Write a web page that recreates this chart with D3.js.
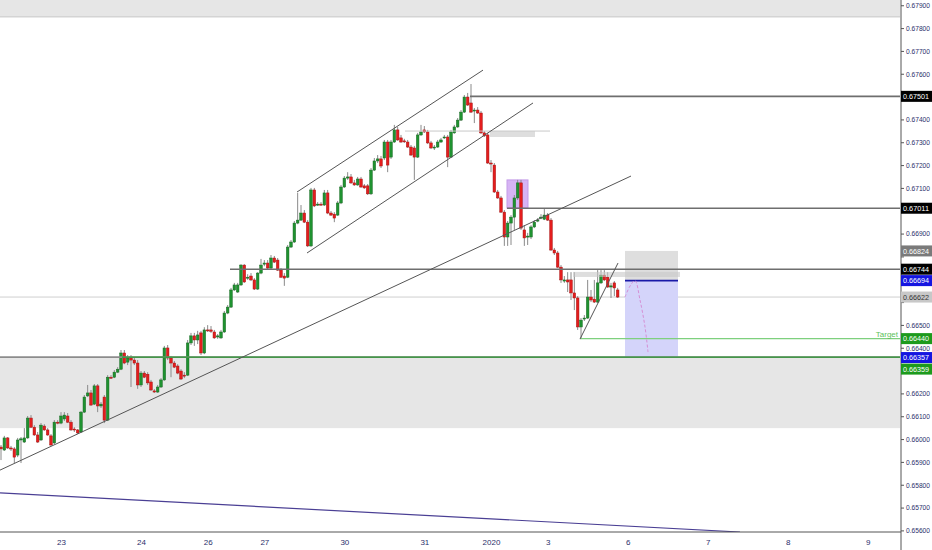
<!DOCTYPE html>
<html><head><meta charset="utf-8">
<script src="https://cdn.jsdelivr.net/npm/d3@7"></script>
<style>body{margin:0;background:#fff} svg{display:block}</style>
</head><body>
<svg id="c" width="932" height="550"></svg>
<script>
// ---------- DATA ----------
const firstIndex = -18; // hourly bars, index 0 = Dec 23 00:00
// [open, high, low, close]
const candles = [
[0.65965,0.65974,0.65908,0.65957],[0.65952,0.66014,0.65948,0.66005],[0.66005,0.66009,0.65957,0.65961],
[0.65961,0.65970,0.65948,0.65957],[0.65957,0.65965,0.65895,0.65921],[0.65930,0.66005,0.65921,0.65996],
[0.65996,0.66009,0.65895,0.66001],[0.65987,0.66048,0.65983,0.66005],[0.66005,0.66101,0.66001,0.66092],
[0.66092,0.66105,0.66048,0.66052],[0.66052,0.66061,0.66014,0.66018],[0.66018,0.66031,0.65983,0.65987],
[0.65996,0.66070,0.65992,0.66061],[0.66057,0.66065,0.66036,0.66040],[0.66040,0.66048,0.66014,0.66018],
[0.66014,0.66022,0.65970,0.65974],[0.65983,0.66083,0.65978,0.66074],[0.66074,0.66083,0.66065,0.66070],
// 23
[0.66070,0.66118,0.66065,0.66101],[0.66088,0.66118,0.66079,0.66105],[0.66101,0.66114,0.66070,0.66074],
[0.66074,0.66083,0.66036,0.66040],[0.66044,0.66052,0.66031,0.66040],[0.66040,0.66044,0.66022,0.66027],
[0.66031,0.66123,0.66027,0.66118],[0.66118,0.66193,0.66114,0.66184],[0.66189,0.66237,0.66184,0.66202],
[0.66202,0.66215,0.66145,0.66149],
[0.66153,0.66241,0.66149,0.66233],[0.66233,0.66241,0.66118,0.66145],[0.66145,0.66162,0.66136,0.66153],
[0.66184,0.66193,0.66070,0.66083],[0.66083,0.66280,0.66079,0.66271],[0.66271,0.66280,0.66263,0.66267],
[0.66271,0.66302,0.66267,0.66293],[0.66293,0.66315,0.66289,0.66306],[0.66306,0.66390,0.66302,0.66377],
[0.66377,0.66390,0.66328,0.66333],
[0.66337,0.66368,0.66324,0.66355],[0.66355,0.66368,0.66228,0.66346],[0.66346,0.66359,0.66324,0.66333],
[0.66333,0.66346,0.66220,0.66237],
// 24
[0.66237,0.66298,0.66228,0.66289],[0.66289,0.66298,0.66267,0.66271],
[0.66284,0.66293,0.66237,0.66246],[0.66250,0.66259,0.66211,0.66215],[0.66211,0.66219,0.66202,0.66206],
[0.66206,0.66237,0.66202,0.66228],
[0.66228,0.66267,0.66224,0.66259],[0.66259,0.66408,0.66255,0.66399],[0.66399,0.66412,0.66346,0.66355],
[0.66355,0.66364,0.66271,0.66333],[0.66333,0.66342,0.66311,0.66315],[0.66320,0.66328,0.66284,0.66289],
[0.66298,0.66306,0.66259,0.66263],[0.66280,0.66293,0.66267,0.66276],[0.66280,0.66434,0.66276,0.66421],
[0.66421,0.66465,0.66412,0.66452],
[0.66452,0.66465,0.66408,0.66434],[0.66434,0.66474,0.66416,0.66456],[0.66465,0.66474,0.66368,0.66377],
[0.66377,0.66490,0.66372,0.66478],
// 26
[0.66478,0.66499,0.66469,0.66474],[0.66478,0.66495,0.66465,0.66472],
[0.66469,0.66478,0.66439,0.66443],[0.66447,0.66460,0.66439,0.66452],[0.66443,0.66478,0.66439,0.66469],
[0.66469,0.66561,0.66465,0.66552],
[0.66552,0.66587,0.66547,0.66578],[0.66578,0.66662,0.66574,0.66653],[0.66653,0.66684,0.66649,0.66675],
[0.66644,0.66684,0.66640,0.66675],[0.66675,0.66766,0.66671,0.66762],[0.66762,0.66766,0.66684,0.66688],
[0.66705,0.66722,0.66697,0.66709],[0.66714,0.66727,0.66692,0.66697],[0.66697,0.66705,0.66653,0.66657],
[0.66657,0.66731,0.66653,0.66727],
[0.66727,0.66789,0.66722,0.66762],
// 27
[0.66766,0.66784,0.66757,0.66771],[0.66771,0.66784,0.66744,0.66749],
[0.66749,0.66806,0.66744,0.66793],[0.66793,0.66802,0.66771,0.66775],[0.66784,0.66793,0.66736,0.66740],
[0.66740,0.66749,0.66705,0.66709],[0.66714,0.66727,0.66671,0.66705],[0.66709,0.66850,0.66705,0.66841],
[0.66841,0.66872,0.66837,0.66863],
[0.66863,0.66955,0.66859,0.66946],[0.66946,0.67078,0.66941,0.66959],[0.66959,0.67025,0.66955,0.66990],
[0.66990,0.67003,0.66946,0.66950],[0.66950,0.66959,0.66841,0.66846],[0.66846,0.67100,0.66841,0.67091],
[0.67091,0.67100,0.67016,0.67021],[0.67025,0.67038,0.67021,0.67029],[0.67029,0.67038,0.67021,0.67027],
[0.67025,0.67091,0.67021,0.67078],
[0.67078,0.67091,0.66985,0.66990],[0.66990,0.66999,0.66977,0.66981],[0.66985,0.66994,0.66950,0.66968],
[0.66981,0.67043,0.66977,0.67034],[0.67034,0.67113,0.67029,0.67104],
// 30
[0.67104,0.67152,0.67100,0.67143],
[0.67143,0.67169,0.67135,0.67148],[0.67148,0.67161,0.67117,0.67122],[0.67122,0.67135,0.67109,0.67113],
[0.67113,0.67148,0.67109,0.67139],
[0.67139,0.67148,0.67100,0.67104],[0.67109,0.67117,0.67096,0.67100],[0.67109,0.67117,0.67069,0.67074],
[0.67074,0.67187,0.67069,0.67178],[0.67178,0.67231,0.67174,0.67218],[0.67218,0.67244,0.67209,0.67227],
[0.67227,0.67240,0.67187,0.67196],[0.67231,0.67310,0.67222,0.67301],[0.67301,0.67310,0.67169,0.67200],
[0.67235,0.67310,0.67227,0.67301],
[0.67301,0.67376,0.67297,0.67354],[0.67354,0.67367,0.67306,0.67310],[0.67319,0.67332,0.67297,0.67301],
[0.67306,0.67315,0.67297,0.67304],[0.67301,0.67310,0.67275,0.67279],[0.67279,0.67288,0.67240,0.67244],
[0.67275,0.67284,0.67135,0.67235],[0.67235,0.67341,0.67231,0.67332],[0.67332,0.67376,0.67328,0.67345],
// 31
[0.67354,0.67371,0.67341,0.67345],
[0.67345,0.67354,0.67292,0.67297],[0.67297,0.67306,0.67270,0.67275],[0.67275,0.67288,0.67266,0.67279],
[0.67279,0.67310,0.67275,0.67301],[0.67301,0.67319,0.67297,0.67310],[0.67319,0.67332,0.67315,0.67323],
[0.67323,0.67332,0.67191,0.67235],[0.67235,0.67354,0.67231,0.67345],[0.67341,0.67376,0.67337,0.67367],
[0.67367,0.67406,0.67363,0.67397],
[0.67397,0.67441,0.67393,0.67432],[0.67432,0.67507,0.67428,0.67498],[0.67498,0.67516,0.67459,0.67463],
[0.67472,0.67555,0.67428,0.67432],[0.67437,0.67450,0.67384,0.67441],[0.67441,0.67454,0.67424,0.67428],
[0.67428,0.67437,0.67336,0.67341],[0.67341,0.67349,0.67323,0.67328],[0.67332,0.67341,0.67205,0.67209],
// 2020 (Jan 2)
[0.67209,0.67222,0.67169,0.67205],
[0.67200,0.67209,0.67078,0.67082],[0.67082,0.67091,0.67052,0.67056],[0.67056,0.67065,0.66990,0.66994],
[0.66994,0.67003,0.66846,0.66885],[0.66885,0.66955,0.66846,0.66946],[0.66946,0.66981,0.66850,0.66972],
[0.66972,0.67069,0.66916,0.67056],[0.67056,0.67135,0.67047,0.67122],[0.67122,0.67135,0.66916,0.66924],
[0.66916,0.66937,0.66846,0.66881],
[0.66885,0.66903,0.66850,0.66889],[0.66885,0.66937,0.66876,0.66929],[0.66929,0.66959,0.66924,0.66950],
[0.66955,0.66968,0.66950,0.66959],[0.66968,0.66985,0.66963,0.66972],[0.66963,0.67012,0.66959,0.66981],
// 3
[0.66981,0.66990,0.66955,0.66959],[0.66959,0.66968,0.66824,0.66828],[0.66828,0.66837,0.66806,0.66815],
[0.66815,0.66824,0.66749,0.66753],
[0.66753,0.66762,0.66684,0.66697],[0.66692,0.66714,0.66684,0.66697],[0.66697,0.66731,0.66644,0.66688],
[0.66697,0.66731,0.66609,0.66640],[0.66640,0.66731,0.66565,0.66618],[0.66618,0.66626,0.66478,0.66491],
[0.66491,0.66530,0.66438,0.66521],[0.66526,0.66543,0.66517,0.66530],[0.66530,0.66697,0.66526,0.66622],
[0.66622,0.66653,0.66600,0.66609],
[0.66613,0.66697,0.66596,0.66600],[0.66600,0.66740,0.66596,0.66684],[0.66684,0.66740,0.66679,0.66718],
[0.66718,0.66740,0.66692,0.66697],[0.66709,0.66731,0.66662,0.66666],[0.66666,0.66684,0.66618,0.66671],
[0.66684,0.66692,0.66626,0.66662],[0.66653,0.66662,0.66618,0.66622]
];

const dayLabels = ["23","24","26","27","30","31","2020","3","6","7","8","9"];
const dayIndex  = [0,24,44,61,85,109,129,146,170,194,218,242];
const priceTicks = [0.656,0.657,0.658,0.659,0.660,0.661,0.662,0.663,0.664,0.665,0.666,0.667,0.668,0.669,0.670,0.671,0.672,0.673,0.674,0.675,0.676,0.677,0.678,0.679];

// horizontal levels: [startIndex, price]
const rayLevels = [[122.7,0.67501],[133.8,0.67011],[50.7,0.66744]];
const lastPrice = 0.66622;
const supportTop = 0.66359, supportBottom = 0.66048;
const topZoneBottom = 0.67849;
const greenLineStart = 18.3;
// trend lines: [[i1,p1],[i2,p2]]
const channelUpper = [[70.8,0.67082],[126.6,0.67616]];
const channelLower = [[73.8,0.66815],[141.6,0.67472]];
const trendLine    = [[-18.3,0.65864],[171.0,0.67152]];
const wedgeLine    = [[155.7,0.66438],[167.1,0.66771]];
const longLine     = [[-18.3,0.65764],[203.7,0.65593]];
// zones: [i1,i2,pLow,pHigh]
const purpleBox  = [133.8,140.1,0.67012,0.67135];
const smallGrey1 = [128.7,142.2,0.67323,0.67349];
const greyLine1  = [103.2,146.7,0.67349];
const smallGrey2 = [153.6,185.7,0.66710,0.66732];
// short position
const posStart = 169.2, posEnd = 185.1;
const stopPrice = 0.66824, entryPrice = 0.66694, targetPrice = 0.66357;
const targetLine = [155.7, 0.66440];
const projection = [[169.2,0.66622],[170.7,0.66670],[172.2,0.66694],[173.7,0.66609],[175.2,0.66491],[176.1,0.66381]];
// price tags: [price, bg, fg, shift]
const tags = [
 [0.67501,"#000","#fff",0],[0.67011,"#000","#fff",0],[0.66824,"#7a7a7a","#fff",0],
 [0.66744,"#000","#fff",0],[0.66694,"#1515e0","#fff",0],[0.66622,"#c8c8c8","#333",0],
 [0.66440,"#1d9a1d","#fff",0],[0.66357,"#1515e0","#fff",0],[0.66359,"#1d9a1d","#fff",12]
];

// ---------- DRAW ----------
const W = 900, H = 532;
const svg = d3.select("#c");
const x = d3.scaleLinear().domain([-18.3, 251.7]).range([0, W]);
const y = d3.scaleLinear().domain([0.65593, 0.67923]).range([H, 0]);

svg.append("defs").append("clipPath").attr("id","clip")
  .append("rect").attr("x",0).attr("y",0).attr("width",W).attr("height",H);
const g = svg.append("g").attr("clip-path","url(#clip)");

// top band
g.append("rect").attr("x",0).attr("width",W).attr("y",0).attr("height",y(topZoneBottom))
 .attr("fill","#e6e6e6");
g.append("line").attr("x1",0).attr("x2",W).attr("y1",y(topZoneBottom)).attr("y2",y(topZoneBottom))
 .attr("stroke","#c8c8c8").attr("stroke-width",1);
// support zone
g.append("rect").attr("x",0).attr("width",W).attr("y",y(supportTop)).attr("height",y(supportBottom)-y(supportTop))
 .attr("fill","#e6e6e6");

// last price line
g.append("line").attr("x1",0).attr("x2",W).attr("y1",y(lastPrice)).attr("y2",y(lastPrice))
 .attr("stroke","#cfcfcf").attr("stroke-width",1);

// purple box
g.append("rect").attr("x",x(purpleBox[0])).attr("width",x(purpleBox[1])-x(purpleBox[0]))
 .attr("y",y(purpleBox[3])).attr("height",y(purpleBox[2])-y(purpleBox[3]))
 .attr("fill","#d6b4f4").attr("stroke","#c39be8").attr("stroke-width",1);

// short position zones
g.append("rect").attr("x",x(posStart)).attr("width",x(posEnd)-x(posStart))
 .attr("y",y(entryPrice)).attr("height",y(targetPrice)-y(entryPrice)).attr("fill","#d4d4fa");
g.append("rect").attr("x",x(posStart)).attr("width",x(posEnd)-x(posStart))
 .attr("y",y(stopPrice)).attr("height",y(entryPrice)-y(stopPrice)).attr("fill","#dedede");

// candles
const cg = g.append("g");
candles.forEach((c,k)=>{
  const i = firstIndex + k, cx = x(i);
  const up = c[3] >= c[0];
  cg.append("line").attr("x1",cx).attr("x2",cx).attr("y1",y(c[1])).attr("y2",y(c[2]))
    .attr("stroke","#8a8a8a").attr("stroke-width",1);
  const top = y(Math.max(c[0],c[3])), bot = y(Math.min(c[0],c[3]));
  cg.append("rect").attr("x",cx-1.3).attr("width",2.6).attr("y",top).attr("height",Math.max(1,bot-top))
    .attr("fill", up ? "#1f9230" : "#e41d1d").attr("stroke", up ? "#176b22" : "#a81414").attr("stroke-width",0.5);
});

// grey small shapes
g.append("line").attr("x1",x(greyLine1[0])).attr("x2",x(greyLine1[1])).attr("y1",y(greyLine1[2])).attr("y2",y(greyLine1[2]))
 .attr("stroke","#c8c8c8").attr("stroke-width",1);
[smallGrey1, smallGrey2].forEach(r=>{
  g.append("rect").attr("x",x(r[0])).attr("width",x(r[1])-x(r[0])).attr("y",y(r[3])).attr("height",y(r[2])-y(r[3]))
   .attr("fill","#c8c8c8").attr("opacity",0.6);
});

// horizontal rays
rayLevels.forEach(r=>{
  g.append("line").attr("x1",x(r[0])).attr("x2",W).attr("y1",y(r[1])).attr("y2",y(r[1]))
   .attr("stroke","#6e6e6e").attr("stroke-width",1.6);
});
// support top line
g.append("line").attr("x1",0).attr("x2",W).attr("y1",y(supportTop)).attr("y2",y(supportTop))
 .attr("stroke","#8c8c8c").attr("stroke-width",1.6);
g.append("line").attr("x1",x(greenLineStart)).attr("x2",W).attr("y1",y(supportTop)).attr("y2",y(supportTop))
 .attr("stroke","#2e9a34").attr("stroke-width",1.4);
// entry line
g.append("line").attr("x1",x(posStart)).attr("x2",x(posEnd)).attr("y1",y(entryPrice)).attr("y2",y(entryPrice))
 .attr("stroke","#1a1aa8").attr("stroke-width",1.6);
// target line
g.append("line").attr("x1",x(targetLine[0])).attr("x2",W).attr("y1",y(targetLine[1])).attr("y2",y(targetLine[1]))
 .attr("stroke","#7ed07e").attr("stroke-width",1.2);
g.append("text").attr("x",W-2).attr("y",y(targetLine[1])-2).attr("text-anchor","end")
 .attr("font-family","Liberation Sans, Arial, sans-serif").attr("font-size",8).attr("fill","#5cbf5c").text("Target");

// trend lines
const seg = (pts, col, w) => g.append("line")
  .attr("x1",x(pts[0][0])).attr("y1",y(pts[0][1])).attr("x2",x(pts[1][0])).attr("y2",y(pts[1][1]))
  .attr("stroke",col).attr("stroke-width",w);
seg(channelUpper,"#555",1);
seg(channelLower,"#555",1);
seg(trendLine,"#555",1);
seg(wedgeLine,"#555",1);
seg(longLine,"#4a3f94",1.2);

// projection curve
g.append("path").datum(projection)
 .attr("d", d3.line().x(d=>x(d[0])).y(d=>y(d[1])).curve(d3.curveCatmullRom))
 .attr("fill","none").attr("stroke","#d48fd4").attr("stroke-width",1).attr("stroke-dasharray","3,2");

// axes
const font = "Liberation Sans, Arial, sans-serif";
const tagYs = tags.map(t => y(t[0]) + t[3]);
const ya = svg.append("g").attr("transform",`translate(${W+1},0)`)
  .call(d3.axisRight(y).tickValues(priceTicks).tickFormat(d3.format(".5f")).tickSize(3).tickPadding(2));
ya.select(".domain").attr("stroke","#555").attr("d",`M0,0V550`);
ya.selectAll(".tick line").attr("stroke","#555");
ya.selectAll(".tick text").attr("font-family",font).attr("font-size",7.5).attr("fill","#2b2f6b")
  .attr("textLength",24).attr("lengthAdjust","spacingAndGlyphs");
// hide tick labels covered by price tags
ya.selectAll(".tick").filter(d => tagYs.some(ty => Math.abs(ty - y(d)) < 9)).select("text").remove();

const xa = svg.append("g").attr("transform",`translate(0,${H})`)
  .call(d3.axisBottom(x).tickValues(dayIndex).tickFormat((d,i)=>dayLabels[i]).tickSize(0).tickPadding(7));
xa.select(".domain").attr("stroke","#555").attr("d",`M0,0H${W+1}`);
xa.selectAll(".tick text").attr("font-family",font).attr("font-size",8).attr("fill","#2b2f6b");

// price tags
const tg = svg.append("g");
tags.forEach((t,k)=>{
  const ty = tagYs[k];
  tg.append("rect").attr("x",W+1).attr("y",ty-5.5).attr("width",31).attr("height",11).attr("fill",t[1]);
  tg.append("text").attr("x",W+3).attr("y",ty+2.8).attr("font-family",font).attr("font-size",7.5)
    .attr("textLength",26).attr("lengthAdjust","spacingAndGlyphs")
    .attr("fill",t[2]).text(d3.format(".5f")(t[0]));
});
</script>
</body></html>
